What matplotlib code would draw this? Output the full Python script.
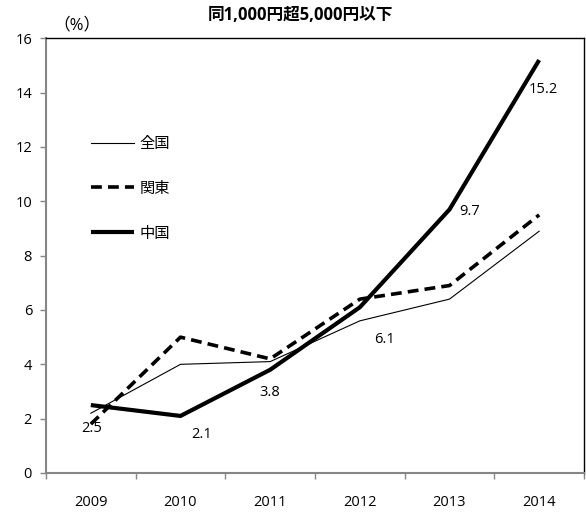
import matplotlib
matplotlib.use("Agg")
import matplotlib.pyplot as plt

plt.rcParams['font.family'] = ['Open Sans', 'Noto Sans CJK JP', 'DejaVu Sans']

years = ["2009", "2010", "2011", "2012", "2013", "2014"]
zenkoku = [2.2, 4.0, 4.1, 5.6, 6.4, 8.9]
kanto = [1.8, 5.0, 4.2, 6.4, 6.9, 9.5]
chugoku = [2.5, 2.1, 3.8, 6.1, 9.7, 15.2]
series_names = ["全国", "関東", "中国"]
title = "同1,000円超5,000円以下"
y_ticks = [0, 2, 4, 6, 8, 10, 12, 14, 16]

# pixel offsets of the value labels on the 中国 line
label_offsets = [(1, -23), (21, -19), (0, -23), (25, -32), (20, -2), (4, -29)]

fig = plt.figure(figsize=(5.86, 5.14), dpi=100)
ax = fig.add_axes([46 / 586, 1 - 473 / 514, (584 - 46) / 586, (473 - 38.3) / 514])

x = list(range(len(years)))
ax.plot(x, zenkoku, color="black", lw=0.8, label=series_names[0], solid_joinstyle="miter")
ax.plot(x, kanto, color="black", lw=2.6, linestyle=(0, (3.0, 1.7)),
        dash_capstyle="butt", label=series_names[1])
ax.plot(x, chugoku, color="black", lw=3.0, label=series_names[2],
        solid_joinstyle="miter", solid_capstyle="butt")

for xi, v, (dx, dy) in zip(x, chugoku, label_offsets):
    ax.annotate(f"{v:.1f}", (xi, v), xytext=(dx, dy), textcoords="offset pixels",
                ha="center", va="center", fontsize=10.5)

ax.set_xlim(-0.5, len(years) - 0.5)
ax.set_ylim(0, 16)
ax.set_yticks(y_ticks)
ax.set_xticks(x)
ax.set_xticklabels(years)
ax.set_xticks([i - 0.5 for i in range(len(years) + 1)], minor=True)

ax.tick_params(axis="x", which="major", length=0, pad=16, labelsize=10.5)
ax.tick_params(axis="x", which="minor", length=4, width=1, color="#868686", direction="out")
ax.tick_params(axis="y", length=4, width=1, color="#868686", direction="out", pad=6, labelsize=10.5)

for side in ("left", "bottom"):
    ax.spines[side].set_color("#868686")
    ax.spines[side].set_linewidth(1.5)
for side in ("top", "right"):
    ax.spines[side].set_color("black")
    ax.spines[side].set_linewidth(1.0)

leg = ax.legend(loc="upper left", bbox_to_anchor=(45 / 538, 1 - 98.7 / 434.7),
                frameon=False, fontsize=11, handlelength=2.8, handletextpad=0.4,
                labelspacing=1.95, borderpad=0, borderaxespad=0)

fig.text(300 / 586, 1 - 15 / 514, title, ha="center", va="center",
         fontsize=12, fontweight="bold")
fig.text(77 / 586, 1 - 25 / 514, "（%）", ha="center", va="center", fontsize=12)

fig.savefig("out.png", dpi=100)
